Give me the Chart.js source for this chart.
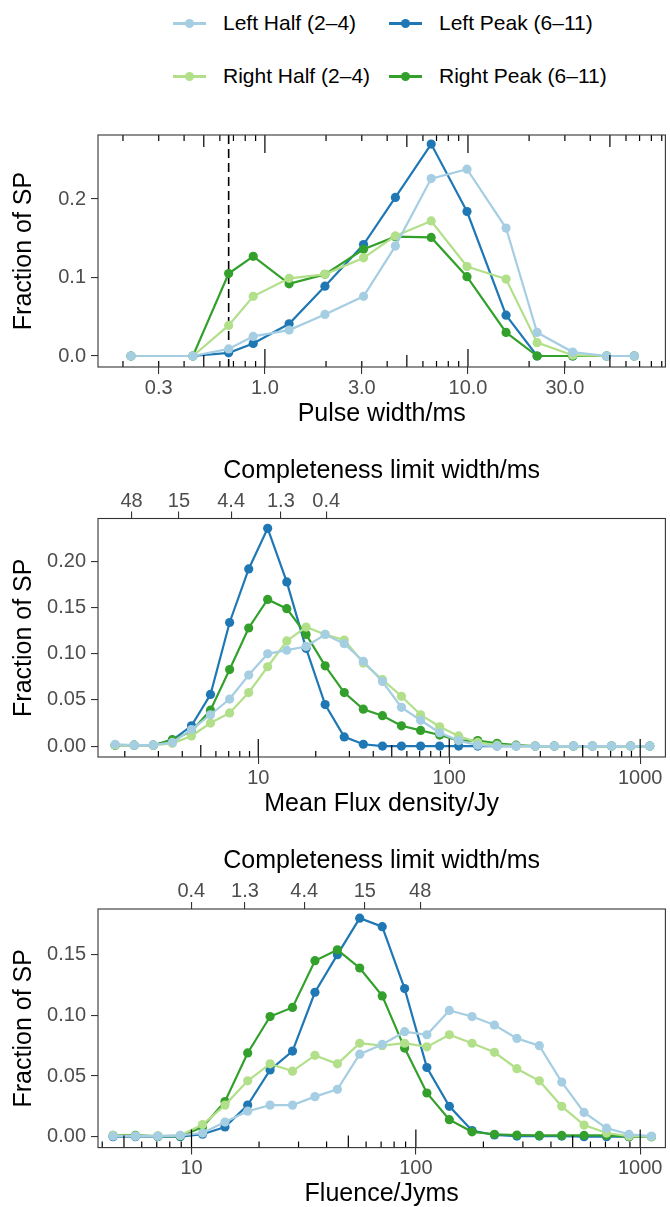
<!DOCTYPE html>
<html><head><meta charset="utf-8">
<script src="https://cdn.jsdelivr.net/npm/chart.js@4.4.1/dist/chart.umd.min.js"></script>
<style>
html,body{margin:0;padding:0;background:#fff;width:670px;height:1207px;overflow:hidden;font-family:'Liberation Sans',Arial,sans-serif;}
canvas{position:absolute;left:0;}
#legend{position:absolute;left:0;top:0;width:670px;height:100px;}
.item{position:absolute;height:24px;font-size:21px;line-height:24px;color:#000;white-space:nowrap;}
.key{position:absolute;left:0;top:10.5px;width:33px;height:3px;}
.dot{position:absolute;left:12px;top:7.5px;width:9px;height:9px;border-radius:50%;}
.lbl{position:absolute;left:50px;top:0;}
</style></head>
<body>
<div id="legend"></div>
<canvas id="c1" width="670" height="340" style="top:100px"></canvas>
<canvas id="c2" width="670" height="390" style="top:440px"></canvas>
<canvas id="c3" width="670" height="377" style="top:830px"></canvas>
<script>
// ---------- series ----------
const seriesNames = ['Left Half (2\u20134)', 'Left Peak (6\u201311)', 'Right Half (2\u20134)', 'Right Peak (6\u201311)'];
const seriesColors = ['#A6CEE3', '#1F78B4', '#B2DF8A', '#33A02C'];

// ---------- panel 1: pulse width ----------
const widthX = [0.219, 0.442, 0.663, 0.876, 1.316, 1.975, 3.06, 4.39, 6.59, 9.89, 15.4, 21.9, 32.8, 48.2, 65.9];
const widthLeftHalf  = [0, 0, 0.009, 0.025, 0.033, 0.053, 0.076, 0.140, 0.226, 0.238, 0.163, 0.030, 0.005, 0, 0];
const widthLeftPeak  = [0, 0, 0.004, 0.016, 0.041, 0.089, 0.142, 0.202, 0.270, 0.184, 0.052, 0, 0, 0, 0];
const widthRightHalf = [0, 0, 0.039, 0.076, 0.099, 0.104, 0.125, 0.153, 0.172, 0.114, 0.098, 0.017, 0.001, 0, 0];
const widthRightPeak = [0, 0, 0.105, 0.127, 0.092, 0.104, 0.136, 0.152, 0.151, 0.101, 0.030, 0, 0, 0, 0];
const widthTicks = [0.3, 1, 3, 10, 30];
const widthTickLabels = ['0.3', '1.0', '3.0', '10.0', '30.0'];
const widthDashX = 0.663;

// ---------- panel 2: mean flux density ----------
const fluxX = [1.78, 2.24, 2.82, 3.55, 4.47, 5.62, 7.08, 8.91, 11.2, 14.1, 17.8, 22.4, 28.2, 35.5, 44.7, 56.2, 70.8, 89.1, 112, 141, 178, 224, 282, 355, 447, 562, 708, 891, 1122];
const fluxLeftHalf  = [0.002, 0.001, 0.001, 0.004, 0.018, 0.034, 0.051, 0.077, 0.100, 0.104, 0.108, 0.121, 0.111, 0.092, 0.070, 0.042, 0.028, 0.0145, 0.006, 0.001, 0, 0, 0, 0, 0, 0, 0, 0, 0];
const fluxLeftPeak  = [0.001, 0.001, 0.001, 0.0065, 0.022, 0.056, 0.134, 0.192, 0.236, 0.178, 0.106, 0.045, 0.010, 0.002, 0, 0, 0, 0, 0, 0, 0, 0, 0, 0, 0, 0, 0, 0, 0];
const fluxRightHalf = [0.001, 0.001, 0.001, 0.003, 0.011, 0.025, 0.036, 0.058, 0.086, 0.114, 0.129, 0.121, 0.115, 0.090, 0.072, 0.054, 0.034, 0.021, 0.011, 0.004, 0.001, 0, 0, 0, 0, 0, 0, 0, 0];
const fluxRightPeak = [0.001, 0.001, 0.001, 0.007, 0.016, 0.039, 0.083, 0.128, 0.159, 0.149, 0.121, 0.087, 0.058, 0.040, 0.033, 0.022, 0.017, 0.012, 0.006, 0.006, 0.003, 0.001, 0, 0, 0, 0, 0, 0, 0];
const fluxTicks = [10, 100, 1000];
const fluxTickLabels = ['10', '100', '1000'];
const fluxTopTicks = [2.17, 3.84, 7.21, 13.13, 22.7];
const fluxTopLabels = ['48', '15', '4.4', '1.3', '0.4'];

// ---------- panel 3: fluence ----------
const fluenceX = [4.47, 5.62, 7.08, 8.91, 11.2, 14.1, 17.8, 22.4, 28.2, 35.5, 44.7, 56.2, 70.8, 89.1, 112, 141, 178, 224, 282, 355, 447, 562, 708, 891, 1122];
const fluenceLeftHalf  = [0.0005, 0.0005, 0.0005, 0.001, 0.003, 0.012, 0.021, 0.026, 0.026, 0.033, 0.039, 0.068, 0.076, 0.0865, 0.084, 0.104, 0.099, 0.092, 0.081, 0.075, 0.045, 0.020, 0.007, 0.002, 0.0005];
const fluenceLeftPeak  = [0, 0, 0, 0, 0.002, 0.008, 0.026, 0.055, 0.0705, 0.119, 0.150, 0.180, 0.173, 0.122, 0.057, 0.025, 0.005, 0.0014, 0.0005, 0.0005, 0.0005, 0, 0, 0, 0];
const fluenceRightHalf = [0.001, 0.0005, 0.0005, 0.001, 0.010, 0.026, 0.046, 0.060, 0.054, 0.067, 0.060, 0.077, 0.075, 0.077, 0.074, 0.084, 0.077, 0.0695, 0.056, 0.046, 0.025, 0.0096, 0.003, 0.0005, 0];
const fluenceRightPeak = [0.001, 0.001, 0.0005, 0.0005, 0.008, 0.029, 0.069, 0.099, 0.1065, 0.145, 0.154, 0.139, 0.116, 0.073, 0.036, 0.014, 0.004, 0.002, 0.0014, 0.001, 0.001, 0.001, 0.001, 0, 0];
const fluenceTicks = [10, 100, 1000];
const fluenceTickLabels = ['10', '100', '1000'];
const fluenceTopTicks = [9.98, 17.3, 31.8, 59.2, 104.6];
const fluenceTopLabels = ['0.4', '1.3', '4.4', '15', '48'];

// ---------- legend ----------
(function () {
  const lg = document.getElementById('legend');
  const cols = [173, 389], rows = [23, 76];
  seriesNames.forEach((name, i) => {
    const it = document.createElement('div');
    it.className = 'item';
    it.style.left = cols[i % 2] + 'px';
    it.style.top = (rows[Math.floor(i / 2)] - 12) + 'px';
    it.innerHTML = '<div class="key" style="background:' + seriesColors[i] + '"></div>' +
      '<div class="dot" style="background:' + seriesColors[i] + '"></div>' +
      '<div class="lbl"></div>';
    it.querySelector('.lbl').textContent = name;
    lg.appendChild(it);
  });
})();

// ---------- decoration plugin (panel border, log ticks, dashed line) ----------
const deco = {
  id: 'deco',
  beforeDatasetsDraw(chart, args, o) {
    if (o.dash == null) return;
    const {ctx, chartArea: a} = chart;
    const px = chart.scales.x.getPixelForValue(o.dash);
    ctx.save();
    ctx.setLineDash([9, 5]);
    ctx.strokeStyle = '#000';
    ctx.lineWidth = 1.6;
    ctx.beginPath(); ctx.moveTo(px, a.top); ctx.lineTo(px, a.bottom); ctx.stroke();
    ctx.restore();
  },
  afterDatasetsDraw(chart, args, o) {
    const {ctx, chartArea: a} = chart;
    const xs = chart.scales.x;
    ctx.save();
    ctx.strokeStyle = '#000';
    ctx.lineWidth = 1.2;
    ctx.beginPath();
    const lo = Math.floor(Math.log10(xs.min)), hi = Math.ceil(Math.log10(xs.max));
    for (let e = lo; e <= hi; e++) {
      for (let m = 1; m <= 9; m++) {
        const v = m * Math.pow(10, e);
        if (v < xs.min || v > xs.max) continue;
        const len = m === 1 ? 18 : (m === 5 ? 12 : 6);
        const px = xs.getPixelForValue(v);
        if (o.sides.indexOf('b') >= 0) { ctx.moveTo(px, a.bottom); ctx.lineTo(px, a.bottom - len); }
        if (o.sides.indexOf('t') >= 0) { ctx.moveTo(px, a.top); ctx.lineTo(px, a.top + len); }
      }
    }
    ctx.stroke();
    ctx.strokeStyle = '#333';
    ctx.lineWidth = 1.1;
    ctx.strokeRect(a.left, a.top, a.right - a.left, a.bottom - a.top);
    ctx.restore();
  }
};

const drawOrder = [0, 3, 1, 2];
function makeDatasets(xs, ysList) {
  return ysList.map((ys, i) => ({
    label: seriesNames[i],
    data: xs.map((x, k) => ({x: x, y: ys[k]})),
    borderColor: seriesColors[i],
    backgroundColor: seriesColors[i],
    pointBackgroundColor: seriesColors[i],
    borderWidth: 2.2,
    pointRadius: 4.6,
    pointHoverRadius: 4.6,
    pointBorderWidth: 0,
    fill: false,
    tension: 0,
    order: drawOrder[i]
  }));
}

const tickFont = {size: 20, lineHeight: 1};
const titleFont = {size: 25, lineHeight: 1};

function panel(id, p) {
  const scales = {
    x: {
      type: 'logarithmic', position: 'bottom', min: p.xmin, max: p.xmax, bounds: 'data',
      afterBuildTicks: s => { s.ticks = p.xTicks.map(v => ({value: v})); },
      afterFit: s => { s.height = p.bottomH; },
      ticks: {autoSkip: false, maxRotation: 0, minRotation: 0, padding: 4, color: '#4d4d4d', font: tickFont,
        callback: (v, i) => p.xLabels[i]},
      grid: {drawOnChartArea: false, drawTicks: true, tickLength: 7, color: '#333', lineWidth: 1.1},
      border: {display: false},
      title: {display: true, text: p.xTitle, color: '#000', font: titleFont, padding: {top: 0, bottom: p.titlePB}}
    },
    y: {
      type: 'linear', position: 'left', min: p.ymin, max: p.ymax, bounds: 'data',
      afterBuildTicks: s => { s.ticks = p.yTicks.map(v => ({value: v})); },
      afterFit: s => { s.width = 98; },
      ticks: {padding: 5, color: '#4d4d4d', font: tickFont, callback: v => Number(v).toFixed(p.yDec)},
      grid: {drawOnChartArea: false, drawTicks: true, tickLength: 7, color: '#333', lineWidth: 1.1},
      border: {display: false},
      title: {display: true, text: 'Fraction of SP', color: '#000', font: titleFont, padding: {top: 11.8, bottom: 0}}
    }
  };
  if (p.topTicks) {
    scales.xt = {
      type: 'logarithmic', position: 'top', min: p.xmin, max: p.xmax, bounds: 'data',
      afterBuildTicks: s => { s.ticks = p.topTicks.map(v => ({value: v})); },
      afterFit: s => { s.height = p.topH; },
      ticks: {autoSkip: false, maxRotation: 0, minRotation: 0, padding: 0.5, color: '#4d4d4d', font: tickFont,
        callback: (v, i) => p.topLabels[i]},
      grid: {drawOnChartArea: false, drawTicks: true, tickLength: 7, color: '#333', lineWidth: 1.1},
      border: {display: false},
      title: {display: true, text: 'Completeness limit width/ms', color: '#000', font: titleFont, padding: {top: 18.8, bottom: 0}}
    };
  }
  return new Chart(document.getElementById(id), {
    type: 'line',
    data: {datasets: makeDatasets(p.x, p.ys)},
    options: {
      responsive: false, animation: false, devicePixelRatio: 1, events: [],
      layout: {padding: {top: p.padTop, right: 2, left: 0, bottom: 0}},
      plugins: {legend: {display: false}, tooltip: {enabled: false}, deco: {sides: p.sides, dash: p.dash}},
      scales: scales
    },
    plugins: [deco]
  });
}

panel('c1', {
  x: widthX, ys: [widthLeftHalf, widthLeftPeak, widthRightHalf, widthRightPeak],
  xmin: 0.1507, xmax: 93.8, xTicks: widthTicks, xLabels: widthTickLabels, xTitle: 'Pulse width/ms',
  ymin: -0.014, ymax: 0.2815, yTicks: [0, 0.1, 0.2], yDec: 1,
  padTop: 35, bottomH: 73, titlePB: 12.9, sides: ['t', 'b'], dash: widthDashX
});
panel('c2', {
  x: fluxX, ys: [fluxLeftHalf, fluxLeftPeak, fluxRightHalf, fluxRightPeak],
  xmin: 1.448, xmax: 1355, xTicks: fluxTicks, xLabels: fluxTickLabels, xTitle: 'Mean Flux density/Jy',
  topTicks: fluxTopTicks, topLabels: fluxTopLabels, topH: 78.5,
  ymin: -0.0118, ymax: 0.2467, yTicks: [0, 0.05, 0.10, 0.15, 0.20], yDec: 2,
  padTop: 0, bottomH: 73, titlePB: 12.9, sides: ['b'], dash: null
});
panel('c3', {
  x: fluenceX, ys: [fluenceLeftHalf, fluenceLeftPeak, fluenceRightHalf, fluenceRightPeak],
  xmin: 3.83, xmax: 1295, xTicks: fluenceTicks, xLabels: fluenceTickLabels, xTitle: 'Fluence/Jyms',
  topTicks: fluenceTopTicks, topLabels: fluenceTopLabels, topH: 79,
  ymin: -0.009, ymax: 0.1876, yTicks: [0, 0.05, 0.10, 0.15], yDec: 2,
  padTop: 0, bottomH: 59.4, titlePB: 0.5, sides: ['b'], dash: null
});
</script>
</body></html>
